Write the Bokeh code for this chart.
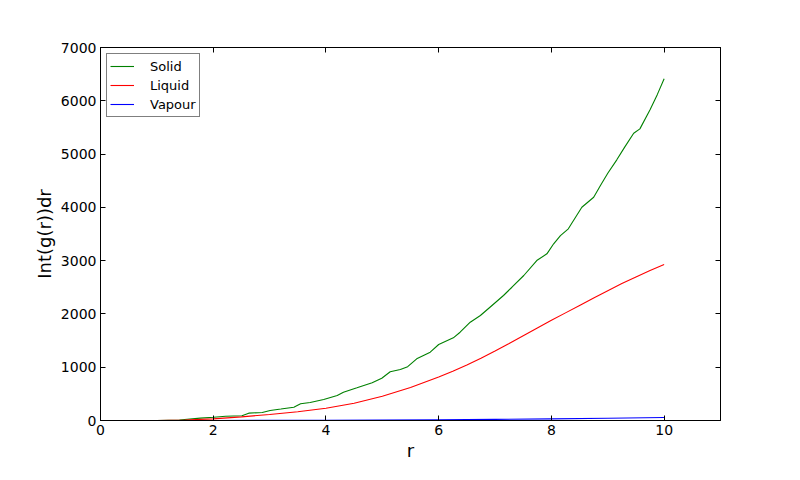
from bokeh.plotting import figure
from bokeh.models import Range1d, FixedTicker, LinearAxis
from bokeh.embed import file_html
from bokeh.resources import INLINE

# ---- data ----
solid_r = [1.0, 1.4, 1.77, 2.01, 2.22, 2.51, 2.63, 2.87, 3.01, 3.2, 3.43, 3.55, 3.72, 3.96,
           4.2, 4.31, 4.55, 4.82, 4.99, 5.14, 5.32, 5.45, 5.61, 5.85, 6.0, 6.26, 6.38,
           6.56, 6.74, 6.91, 7.15, 7.3, 7.51, 7.74, 7.92, 8.04, 8.16, 8.3, 8.54, 8.75,
           8.87, 9.0, 9.16, 9.3, 9.46, 9.57, 9.75, 9.88, 10.0]
solid_v = [0, 10, 45, 62, 80, 88, 138, 150, 188, 215, 250, 313, 338, 394,
           469, 531, 613, 707, 794, 914, 957, 1010, 1158, 1282, 1426, 1552, 1657,
           1845, 1970, 2126, 2346, 2501, 2721, 3002, 3128, 3316, 3471, 3597, 4002, 4190,
           4410, 4640, 4892, 5130, 5391, 5473, 5830, 6120, 6412]

liquid_r = [1.0, 1.5, 2.0, 2.5, 3.0, 3.5, 4.0, 4.5, 5.0, 5.5, 6.0, 6.25, 6.5, 6.75, 7.0,
            7.25, 7.5, 7.75, 8.0, 8.25, 8.5, 8.75, 9.0, 9.25, 9.5, 9.75, 10.0]
liquid_v = [0, 10, 31, 68, 113, 165, 231, 325, 455, 620, 815, 925, 1040, 1170, 1305,
            1445, 1590, 1735, 1880, 2020, 2160, 2300, 2435, 2570, 2695, 2815, 2927]

vapour_r = [1.0, 2.0, 3.0, 4.0, 5.0, 6.0, 7.0, 8.0, 9.0, 10.0]
vapour_v = [0, 0.5, 2, 5, 9, 15, 22, 31, 42, 55]

x_ticks = [0, 2, 4, 6, 8, 10]
y_ticks = [0, 1000, 2000, 3000, 4000, 5000, 6000, 7000]

FONT = "DejaVu Sans"

p = figure(
    output_backend="svg", toolbar_location=None,
    width=784, height=464,
    frame_width=620, frame_height=373,
    min_border_left=100, min_border_right=64, min_border_top=47, min_border_bottom=44,
    x_range=Range1d(0, 11), y_range=Range1d(0, 7000),
    x_axis_label="r", y_axis_label="Int(g(r))dr",
)
p.background_fill_color = "white"
p.border_fill_color = "white"
p.outline_line_color = "black"
p.outline_line_width = 1
p.xgrid.visible = False
p.ygrid.visible = False

p.xaxis.ticker = FixedTicker(ticks=x_ticks)
p.yaxis.ticker = FixedTicker(ticks=y_ticks)

for ax in (p.xaxis[0], p.yaxis[0]):
    ax.major_tick_in = 5
    ax.major_tick_out = 0
    ax.minor_tick_line_color = None
    ax.axis_line_color = "black"
    ax.major_tick_line_color = "black"
    ax.major_label_text_font = FONT
    ax.major_label_text_font_size = "14px"
    ax.major_label_text_color = "black"
    ax.axis_label_text_font = FONT
    ax.axis_label_text_font_size = "18px"
    ax.axis_label_text_font_style = "normal"
    ax.axis_label_text_color = "black"
    ax.major_label_standoff = 4
p.xaxis[0].axis_label_standoff = 2
p.yaxis[0].axis_label_standoff = 3

# mirrored ticks on top and right
top = LinearAxis(ticker=FixedTicker(ticks=x_ticks), major_tick_in=5, major_tick_out=0,
                 minor_tick_line_color=None, major_label_text_font_size="0px",
                 axis_line_color="black")
top.major_label_text_color = None
right = LinearAxis(ticker=FixedTicker(ticks=y_ticks), major_tick_in=5, major_tick_out=0,
                   minor_tick_line_color=None, major_label_text_font_size="0px",
                   axis_line_color="black")
right.major_label_text_color = None
p.add_layout(top, "above")
p.add_layout(right, "right")

p.line(solid_r, solid_v, line_color="#008000", line_width=1.1, legend_label="Solid")
p.line(liquid_r, liquid_v, line_color="#ff0000", line_width=1.1, legend_label="Liquid")
p.line(vapour_r, vapour_v, line_color="#0000ff", line_width=1.1, legend_label="Vapour")

lg = p.legend[0]
lg.location = "top_left"
lg.label_text_font = FONT
lg.label_text_font_size = "13px"
lg.label_text_color = "black"
lg.border_line_color = "black"
lg.border_line_width = 1
lg.border_radius = 0
lg.background_fill_alpha = 1
lg.margin = 6
lg.padding = 3
lg.spacing = 1
lg.glyph_width = 24
lg.glyph_height = 18
lg.label_height = 18
lg.label_standoff = 16

open("out.html", "w").write(file_html(p, INLINE))
